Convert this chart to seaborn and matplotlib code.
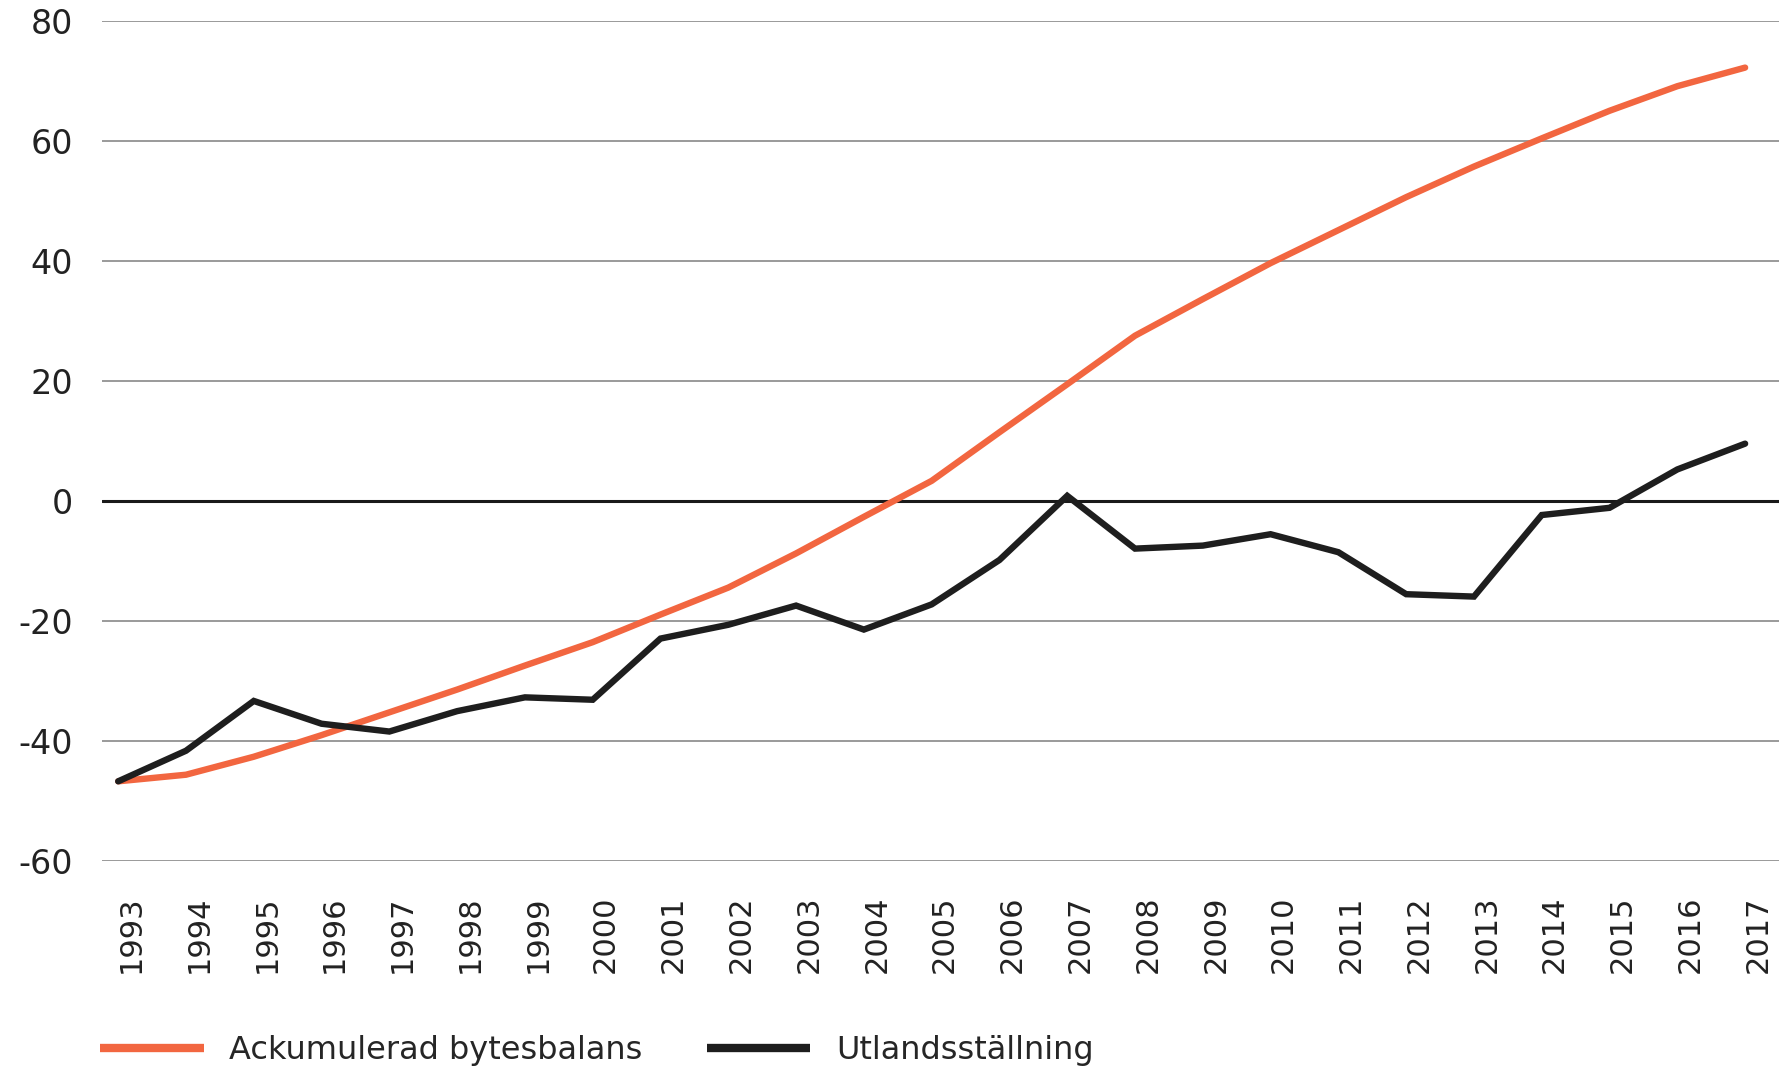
import pandas as pd
import seaborn as sns
import matplotlib.pyplot as plt
import matplotlib.transforms as mtransforms

# values
years = list(range(1993, 2018))
ackumulerad = [-46.7, -45.6, -42.6, -39.0, -35.2, -31.4, -27.4, -23.5, -18.9, -14.4,
               -8.7, -2.6, 3.4, 11.5, 19.5, 27.6, 33.7, 39.7, 45.2, 50.7,
               55.8, 60.5, 65.1, 69.2, 72.3]
utland = [-46.7, -41.6, -33.3, -37.1, -38.4, -35.0, -32.7, -33.1, -22.9, -20.6,
          -17.4, -21.4, -17.2, -9.8, 0.9, -7.9, -7.4, -5.5, -8.5, -15.5,
          -15.9, -2.3, -1.1, 5.3, 9.6]
series_names = ["Ackumulerad bytesbalans", "Utlandsställning"]
colors = ["#F26640", "#1E1E1E"]
y_ticks = [-60, -40, -20, 0, 20, 40, 60, 80]

df = pd.DataFrame({
    "year": years * 2,
    "value": ackumulerad + utland,
    "serie": [series_names[0]] * len(years) + [series_names[1]] * len(years),
})

sns.set_style("white")
plt.rcParams["font.family"] = ["DejaVu Sans"]

fig = plt.figure(figsize=(17.79, 10.71), dpi=100)
ax = fig.add_axes([0.0573, 0.196, 0.9427, 0.784])

# grid lines, zero line in black
for yt in y_ticks:
    if yt == 0:
        ax.axhline(yt, color="#1a1a1a", lw=2.2, zorder=1)
    else:
        ax.axhline(yt, color="#9a9a9a", lw=1.4, zorder=1)

sns.lineplot(data=df, x="year", y="value", hue="serie", palette=colors,
             linewidth=4.6, ax=ax, legend=False, zorder=3)
for line in ax.lines[-2:]:
    line.set_solid_capstyle("round")
    line.set_solid_joinstyle("miter")

ax.set_xlim(1992.76, 2017.5)
ax.set_ylim(-60, 80)
ax.set_xticks(years)
ax.set_xticklabels([str(y) for y in years], rotation=90, fontsize=22, color="#222222")
ax.set_yticks(y_ticks)
ax.set_yticklabels([str(t) for t in y_ticks], fontsize=24, color="#222222")
ax.tick_params(axis="x", length=0, pad=25)
ax.tick_params(axis="y", length=0, pad=21)
shift = mtransforms.ScaledTranslation(13 / 100, 0, fig.dpi_scale_trans)
for lab in ax.get_xticklabels():
    lab.set_transform(lab.get_transform() + shift)
ax.set_xlabel("")
ax.set_ylabel("")
sns.despine(ax=ax, left=True, bottom=True)

handles = [plt.Line2D([], [], color=c, lw=6, solid_capstyle="butt") for c in colors]
fig.legend(handles, series_names, loc="center left", bbox_to_anchor=(0.0562, 0.019),
           ncol=2, frameon=False, fontsize=23, handlelength=3.25, handletextpad=0.8,
           columnspacing=2.0, borderpad=0, borderaxespad=0)

fig.savefig("out.png", dpi=100)
